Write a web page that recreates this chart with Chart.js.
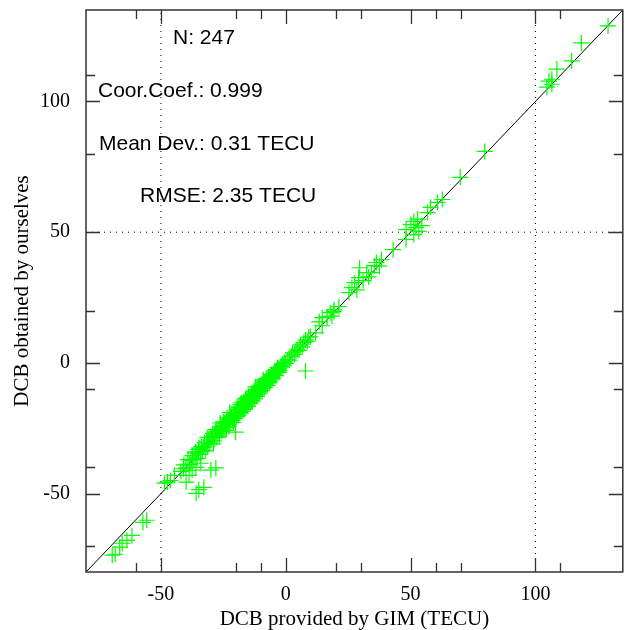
<!DOCTYPE html>
<html>
<head>
<meta charset="utf-8">
<script src="https://cdn.jsdelivr.net/npm/chart.js@4.4.1/dist/chart.umd.min.js"></script>
<style>
  html, body { margin: 0; padding: 0; background: #fff; }
</style>
</head>
<body>
<canvas id="dcbChart" width="632" height="630"></canvas>
<script>
/* ---------- Data ---------- */
// DCB provided by GIM (TECU)
const gimDcb = [
  -69.5, -68.3, -66.5, -65.5, -63.6, -61.6, -57.2, -55.7,
  -48.6, -47.4, -46.2, -44.6, -41.0,
  -35.9, -34.8, -32.8, -39.9, -30.0, -28.0, -37.5, -38.7, -34.0, -36.0,
  -42.0, -40.8, -40.0, -39.2, -38.5, -37.9, -37.4, -36.8, -36.2, -35.9, -35.5, -35.0,
  -34.7, -34.2, -33.8, -33.4, -32.8, -32.5, -32.0, -31.6, -31.2, -30.8, -30.4, -30.0,
  -29.6, -29.2, -28.8, -28.4, -28.0, -27.6, -27.2, -26.8, -26.4, -26.0, -25.6, -25.2, -24.8,
  -24.4, -24.1, -23.7, -23.3, -23.0, -22.6, -22.2, -21.7, -21.3, -20.9, -20.5, -20.1, -20.0,
  -19.6, -19.3, -19.0, -18.7, -18.4, -18.1, -17.8, -17.5, -17.2, -16.9, -16.6, -16.3, -16.0,
  -15.7, -15.4, -15.0, -14.7, -14.4, -14.1, -13.8, -13.5, -13.2, -12.9, -12.6, -12.2, -12.0,
  -11.7, -11.4, -11.1, -10.8, -10.5, -10.2,
  -9.9, -9.6, -9.3, -9.1, -8.8, -8.5, -8.2, -7.9, -7.6, -7.3, -7.0, -6.7, -6.4, -6.1, -5.8,
  -5.5, -5.2, -4.9, -4.6, -4.3, -4.0, -3.7, -3.4, -3.1, -2.8, -2.5, -2.0, -1.6, -1.2, -0.8,
  -0.4, 0.0,
  0.8, 1.5, 2.2, 2.8, 3.5, 4.1, 4.7, 5.3, 5.9, 6.6, 7.2, 7.9, 7.9, 8.6, 9.2, 9.9,
  12.0, 13.4, 14.6, 14.6, 16.6, 17.8, 18.5, 19.3, 19.3, 21.3,
  25.3, 26.5, 27.6, 28.5, 29.2, 29.6, 31.0, 32.4, 33.2, 34.3, 35.5, 36.3, 37.5, 38.3, 43.0, 48.2,
  48.2, 50.1, 51.3, 52.1, 53.3, 51.3, 52.8, 54.5, 56.8, 58.0, 60.8, 62.7, 69.9,
  79.7, 104.6, 105.4, 106.6, 106.6, 108.6, 114.5, 118.4, 129.1,
  -27.9, -26.6, -25.0, -24.0, -23.5, -22.8, -22.0, -21.0, -19.8, -19.4, -18.9, -18.2, -17.6,
  -17.0, -16.5, -16.1, -15.6, -15.2, -14.8, -14.2, -13.7, -13.3, -12.7, -12.4, -11.9, -11.5,
  -11.0, -10.6, -10.0, -9.5, -8.9, -8.4, -7.8, -7.4, -6.9, -6.3, -5.7, -5.1, -4.5, -3.9,
  -3.3, -2.7, -22.4, -26.2, -29.0, -31.4
];

// DCB obtained by ourselves (TECU)
const ownDcb = [
  -73.6, -73.2, -70.5, -69.0, -67.9, -66.0, -61.0, -60.2,
  -46.0, -45.6, -45.0, -43.0, -40.5,
  -49.9, -48.5, -47.6, -45.6, -41.0, -40.2, -41.0, -43.0, -38.4, -40.0,
  -41.5, -39.0, -40.2, -37.0, -38.8, -37.2, -35.5, -36.9, -34.0, -34.5, -36.5, -33.2,
  -32.6, -35.0, -32.0, -33.8, -32.2, -30.5, -33.5, -30.3, -31.8, -29.5, -31.0, -28.6,
  -28.4, -27.0, -29.8, -27.6, -26.4, -28.5, -26.0, -27.1, -25.0, -24.5, -26.2, -24.0, -25.3,
  -23.2, -23.0, -24.6, -22.4, -21.6, -23.4, -21.5, -20.7, -22.0, -19.8, -21.1, -26.5, -19.2,
  -18.0, -19.5, -18.0, -17.2, -19.1, -17.5, -15.3, -17.0, -16.2, -17.6, -15.6, -16.0, -14.8,
  -16.4, -14.5, -13.0, -15.2, -13.8, -13.2, -14.4, -12.5, -13.0, -11.8, -12.9, -9.2, -11.4,
  -12.2, -10.6, -11.0, -9.9, -10.8, -9.4,
  -9.6, -8.8, -9.9, -6.5, -8.2, -7.6, -8.6, -7.2, -6.8, -7.7, -6.2, -6.9, -5.6, -6.3, -5.2,
  -5.9, -4.6, -4.8, -3.9, -4.7, -3.5, -3.3, -2.6, -3.2, -2.1, -2.8, -1.5, -1.2, -0.4, -0.9,
  0.3, -0.2,
  1.2, 1.0, 2.6, 3.8, 3.2, 4.5, 5.0, 4.8, 6.9, 6.1, 7.8, 8.8, -3.1, 8.2, 9.9, 10.0,
  11.5, 15.7, 14.2, 17.3, 17.6, 19.2, 17.9, 19.6, 20.3, 21.5,
  26.9, 28.8, 30.7, 27.9, 32.6, 36.4, 31.5, 34.5, 32.9, 34.5, 37.2, 38.4, 37.0, 39.5, 43.3, 47.2,
  51.0, 52.9, 54.1, 51.8, 50.3, 49.1, 55.0, 52.5, 57.5, 59.5, 61.4, 62.5, 71.0,
  80.9, 105.5, 107.8, 106.6, 108.5, 112.4, 115.5, 122.4, 128.9,
  -25.5, -28.0, -22.6, -25.8, -21.0, -24.4, -20.3, -22.8, -20.6, -16.8, -20.0, -16.0, -18.6,
  -15.0, -17.8, -13.6, -14.0, -16.6, -12.8, -15.5, -11.9, -14.6, -10.8, -13.8, -10.2, -12.8,
  -9.0, -11.8, -8.6, -10.6, -7.0, -9.4, -6.0, -8.6, -5.4, -7.3, -4.4, -6.0, -3.0, -4.9,
  -1.8, -3.6, -19.0, -23.0, -31.0, -28.5
];

// Axis range and ticks
const axisMin = -80;
const axisMax = 135;
const majorTicks = [-50, 0, 50, 100];
const xMinorTicks = [-60, -20, -10, 20, 30, 60, 70, 110];
const yMinorTicks = [110, 80, 20, -10, -40, -70];

// Dotted reference lines
const xRefLines = [-50, 100];
const yRefLines = [50];

const statsText = ['N: 247', 'Coor.Coef.: 0.999', 'Mean Dev.: 0.31 TECU', 'RMSE: 2.35 TECU'];

/* ---------- Helpers ---------- */
const SERIF = '"Liberation Serif", "Times New Roman", serif';
const SANS = '"Liberation Sans", Arial, sans-serif';

const points = gimDcb.map((v, i) => ({ x: v, y: ownDcb[i] }));

const refDatasets = [
  ...xRefLines.map(v => ({
    type: 'line',
    data: [{ x: v, y: axisMin }, { x: v, y: axisMax }],
    borderColor: '#000',
    borderWidth: 1,
    borderDash: [1, 5],
    pointRadius: 0,
    order: 3
  })),
  ...yRefLines.map(v => ({
    type: 'line',
    data: [{ x: axisMin, y: v }, { x: axisMax, y: v }],
    borderColor: '#000',
    borderWidth: 1,
    borderDash: [1, 5],
    pointRadius: 0,
    order: 3
  }))
];

/* ---------- Frame + inward ticks ---------- */
const framePlugin = {
  id: 'frame',
  afterDatasetsDraw(chart) {
    const { ctx, chartArea: a, scales: { x, y } } = chart;
    ctx.save();
    ctx.strokeStyle = '#333';
    ctx.lineWidth = 1.5;
    ctx.strokeRect(a.left, a.top, a.right - a.left, a.bottom - a.top);

    ctx.lineWidth = 1.3;
    const xTick = (v, len) => {
      const px = Math.round(x.getPixelForValue(v)) + 0.5;
      ctx.beginPath();
      ctx.moveTo(px, a.bottom); ctx.lineTo(px, a.bottom - len);
      ctx.moveTo(px, a.top); ctx.lineTo(px, a.top + len);
      ctx.stroke();
    };
    const yTick = (v, len) => {
      const py = Math.round(y.getPixelForValue(v)) + 0.5;
      ctx.beginPath();
      ctx.moveTo(a.left, py); ctx.lineTo(a.left + len, py);
      ctx.moveTo(a.right, py); ctx.lineTo(a.right - len, py);
      ctx.stroke();
    };
    majorTicks.forEach(v => { xTick(v, 14); yTick(v, 14); });
    xMinorTicks.forEach(v => xTick(v, 9));
    yMinorTicks.forEach(v => yTick(v, 9));
    ctx.restore();
  },
  afterDraw(chart) {
    const { ctx } = chart;
    const spots = [[173, 44], [98, 97], [99, 150], [140, 202]];
    ctx.save();
    ctx.fillStyle = '#000';
    ctx.font = '21px ' + SANS;
    ctx.textBaseline = 'alphabetic';
    ctx.textAlign = 'left';
    statsText.forEach((t, i) => ctx.fillText(t, spots[i][0], spots[i][1]));
    ctx.restore();
  }
};

/* ---------- Chart ---------- */
const noEdgePadding = s => {
  s.paddingTop = 0; s.paddingBottom = 0;
  s.paddingLeft = 0; s.paddingRight = 0;
};

const axisCommon = {
  type: 'linear',
  min: axisMin,
  max: axisMax,
  afterBuildTicks: s => { s.ticks = majorTicks.map(v => ({ value: v })); },
  grid: { display: false },
  border: { display: false },
  ticks: {
    color: '#000',
    font: { family: SERIF, size: 20 },
    maxRotation: 0
  }
};

new Chart(document.getElementById('dcbChart'), {
  type: 'scatter',
  data: {
    datasets: [
      {
        label: 'DCB',
        data: points,
        pointStyle: 'cross',
        pointRadius: 8,
        pointBorderWidth: 1.2,
        borderColor: '#00ff00',
        backgroundColor: '#00ff00',
        order: 1
      },
      {
        type: 'line',
        data: [{ x: axisMin, y: axisMin }, { x: axisMax, y: axisMax }],
        borderColor: '#000',
        borderWidth: 1,
        pointRadius: 0,
        order: 2
      },
      ...refDatasets
    ]
  },
  options: {
    responsive: false,
    animation: false,
    events: [],
    layout: { padding: { top: 10, right: 2, left: 0, bottom: 0 } },
    plugins: {
      legend: { display: false },
      tooltip: { enabled: false }
    },
    scales: {
      x: {
        ...axisCommon,
        position: 'bottom',
        ticks: { ...axisCommon.ticks, padding: 3 },
        title: {
          display: true,
          text: 'DCB provided by GIM (TECU)',
          color: '#000',
          font: { family: SERIF, size: 21, lineHeight: 1 },
          padding: { top: 0, bottom: 0 }
        },
        afterFit: s => { s.height = 58; noEdgePadding(s); }
      },
      y: {
        ...axisCommon,
        position: 'left',
        ticks: { ...axisCommon.ticks, padding: 8 },
        title: {
          display: true,
          text: 'DCB obtained by ourselves',
          color: '#000',
          font: { family: SERIF, size: 21, lineHeight: 1 },
          padding: { top: 12, bottom: 0 }
        },
        afterFit: s => { s.width = 86; noEdgePadding(s); }
      }
    }
  },
  plugins: [framePlugin]
});
</script>
</body>
</html>
